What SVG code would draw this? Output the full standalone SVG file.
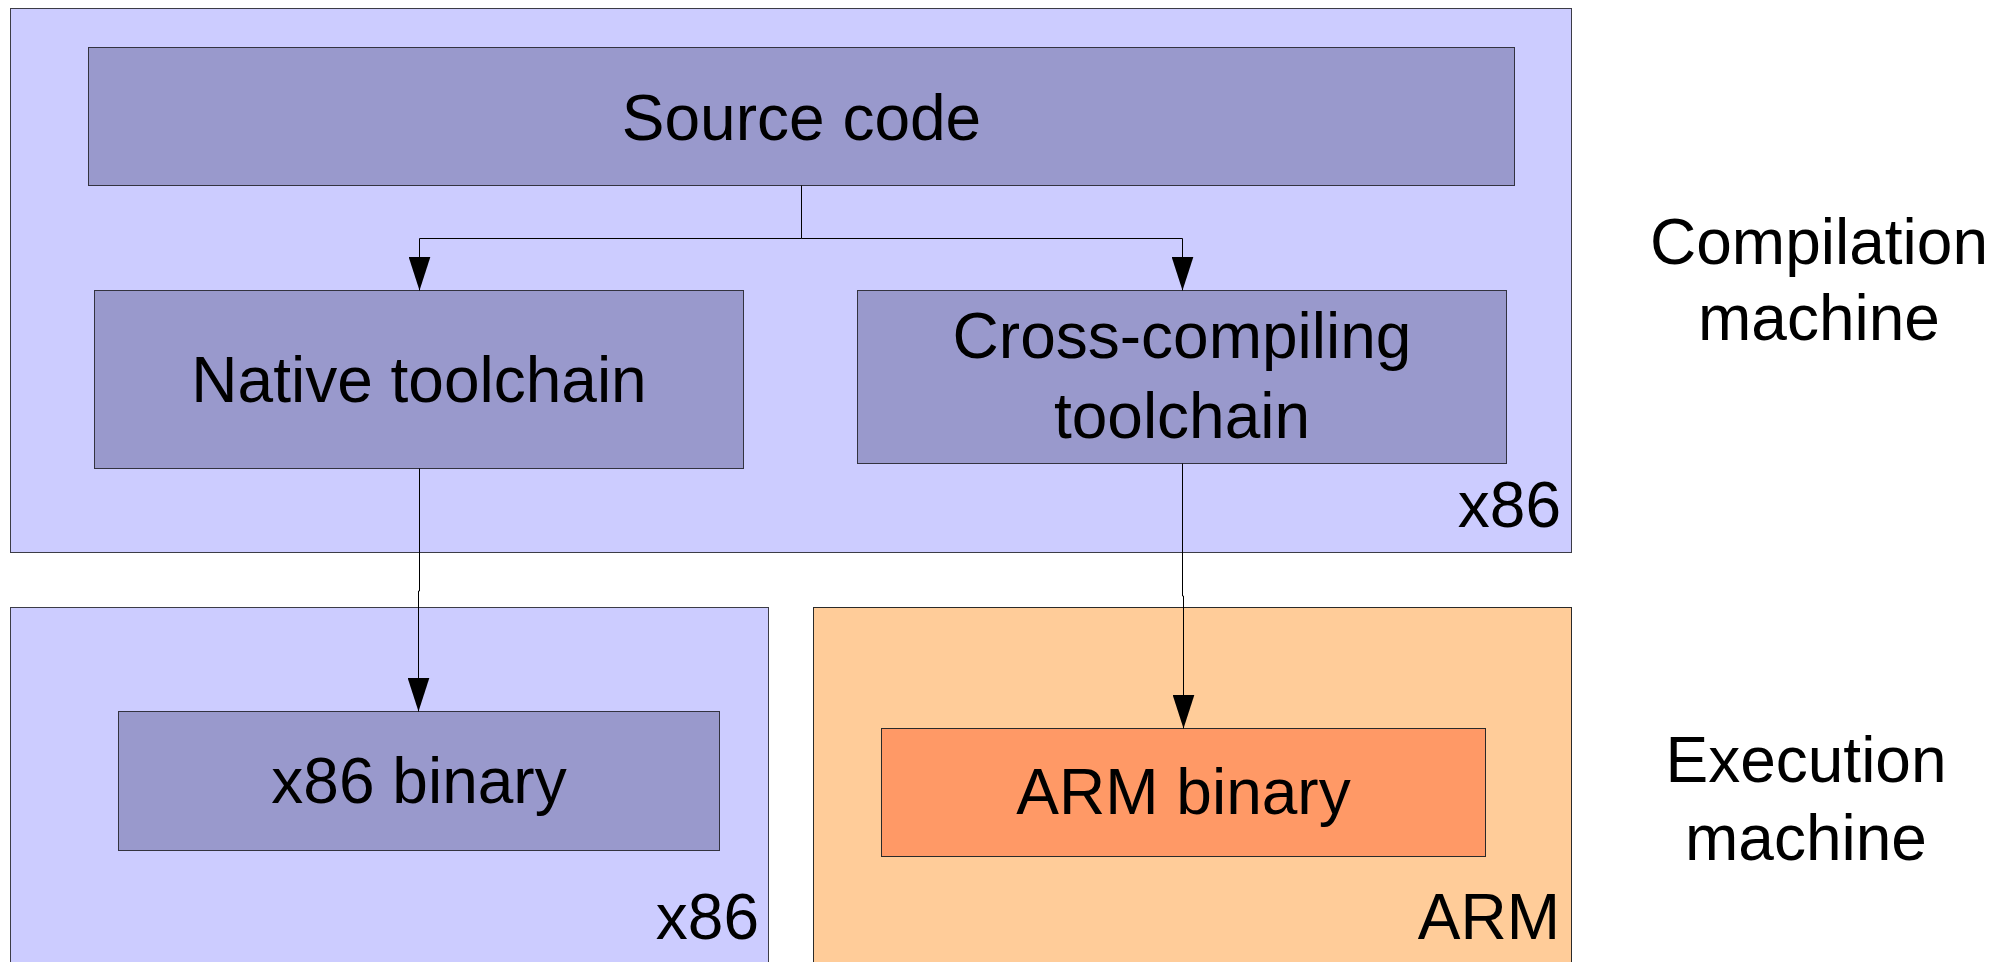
<svg xmlns="http://www.w3.org/2000/svg" width="2006" height="962" viewBox="0 0 2006 962">
  <style>
    .outer-blue { fill: #ccccff; stroke: #3c3c46; stroke-width: 1; }
    .outer-orange { fill: #ffcc99; stroke: #2a2a2a; stroke-width: 1; }
    .inner-blue { fill: #9999cc; stroke: #333340; stroke-width: 1; }
    .inner-orange { fill: #ff9966; stroke: #2a2a2a; stroke-width: 1; }
    text { font-family: "Liberation Sans", Arial, Helvetica, sans-serif; font-size: 64px; fill: #000000; }
    .mid { text-anchor: middle; }
    .end { text-anchor: end; }
    .conn { fill: none; stroke: #000000; stroke-width: 1; }
  </style>
  <defs>
    <marker id="arrow" viewBox="0 0 34 22" refX="34" refY="11" markerWidth="34" markerHeight="22" markerUnits="userSpaceOnUse" orient="auto">
      <path d="M0,0 L34,11 L0,22 Z" fill="#000000"/>
    </marker>
  </defs>
  <rect width="2006" height="962" fill="#ffffff"/>

  <g id="compilation-machine">
    <rect class="outer-blue" x="10.5" y="8.5" width="1561" height="544"/>
    <text class="end" x="1561" y="527">x86</text>
  </g>
  <g id="execution-x86">
    <rect class="outer-blue" x="10.5" y="607.5" width="758" height="400"/>
    <text class="end" x="759" y="939">x86</text>
  </g>
  <g id="execution-arm">
    <rect class="outer-orange" x="813.5" y="607.5" width="758" height="400"/>
    <text class="end" x="1560" y="939">ARM</text>
  </g>

  <g id="source-code">
    <rect class="inner-blue" x="88.5" y="47.5" width="1426" height="138"/>
    <text class="mid" x="801.5" y="140">Source code</text>
  </g>
  <g id="native-toolchain">
    <rect class="inner-blue" x="94.5" y="290.5" width="649" height="178"/>
    <text class="mid" x="419" y="402">Native toolchain</text>
  </g>
  <g id="cross-toolchain">
    <rect class="inner-blue" x="857.5" y="290.5" width="649" height="173"/>
    <text class="mid" x="1182" y="358">Cross-compiling</text>
    <text class="mid" x="1182" y="438">toolchain</text>
  </g>
  <g id="x86-binary">
    <rect class="inner-blue" x="118.5" y="711.5" width="601" height="139"/>
    <text class="mid" x="419" y="803">x86 binary</text>
  </g>
  <g id="arm-binary">
    <rect class="inner-orange" x="881.5" y="728.5" width="604" height="128"/>
    <text class="mid" x="1183.5" y="814">ARM binary</text>
  </g>

  <g id="connectors">
    <path class="conn" d="M801.5,185.5 V238.5 H419.5 V290.5" marker-end="url(#arrow)"/>
    <path class="conn" d="M801.5,238.5 H1182.5 V290.5" marker-end="url(#arrow)"/>
    <path class="conn" d="M419.5,468.5 V591 H418.5 V711.5" marker-end="url(#arrow)"/>
    <path class="conn" d="M1182.5,463.5 V596 H1183.5 V728.5" marker-end="url(#arrow)"/>
  </g>

  <g id="side-labels">
    <text class="mid" x="1819" y="264">Compilation</text>
    <text class="mid" x="1819" y="340">machine</text>
    <text class="mid" x="1806" y="782">Execution</text>
    <text class="mid" x="1806" y="860">machine</text>
  </g>
</svg>
